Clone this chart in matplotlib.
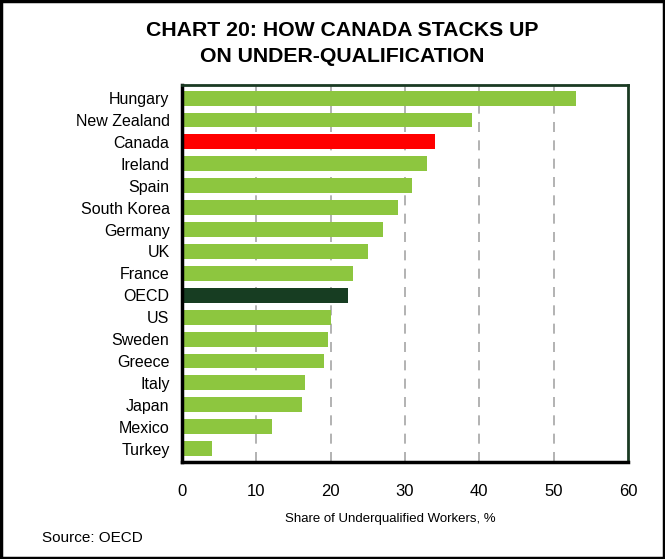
import matplotlib
matplotlib.use("Agg")
import matplotlib.pyplot as plt
from matplotlib.patches import Rectangle

plt.rcParams['font.family'] = ['Liberation Sans', 'DejaVu Sans']

# data (top to bottom)
countries = ['Hungary', 'New Zealand', 'Canada', 'Ireland', 'Spain', 'South Korea',
             'Germany', 'UK', 'France', 'OECD', 'US', 'Sweden', 'Greece', 'Italy',
             'Japan', 'Mexico', 'Turkey']
shares = [53, 39, 34, 33, 31, 29, 27, 25, 23, 22.3, 20.1, 19.6, 19.1, 16.5, 16.1, 12.1, 4.0]
x_ticks = [0, 10, 20, 30, 40, 50, 60]

green = '#8DC63F'
colors = []
for c in countries:
    if c == 'Canada':
        colors.append('#FF0000')
    elif c == 'OECD':
        colors.append('#173D22')
    else:
        colors.append(green)

fig = plt.figure(figsize=(6.65, 5.59), dpi=100)
ax = fig.add_axes([0.2737, 0.174, 0.6707, 0.674])

ypos = list(range(len(countries)))[::-1]
ax.barh(ypos, shares, height=0.68, color=colors, zorder=2)

ax.set_xlim(0, 60)
ax.set_ylim(-0.6, len(countries) - 0.4)
ax.set_xticks(x_ticks)
ax.set_yticks(ypos)
ax.set_yticklabels(countries)
ax.tick_params(axis='both', length=0, labelsize=11.5)
ax.tick_params(axis='x', pad=16, labelsize=12)
ax.tick_params(axis='y', pad=9)

# dashed vertical gridlines
for t in x_ticks[1:-1]:
    ax.axvline(t, color='#a5a5a5', lw=1.2, ls=(0, (6, 5)), zorder=1)

for side in ['left', 'bottom']:
    ax.spines[side].set_color('black')
    ax.spines[side].set_linewidth(2.5)
for side in ['top', 'right']:
    ax.spines[side].set_color('#1a3a22')
    ax.spines[side].set_linewidth(2)

title_x = 342 / 665
fig.text(title_x, 1 - 30 / 559, 'CHART 20: HOW CANADA STACKS UP', ha='center', va='center',
         fontsize=15.3, fontweight='bold')
fig.text(title_x, 1 - 57 / 559, 'ON UNDER-QUALIFICATION', ha='center',
         va='center', fontsize=15.3, fontweight='bold')
fig.text(390 / 665, 1 - 519 / 559, 'Share of Underqualified Workers, %', ha='center',
         va='center', fontsize=9.5)
fig.text(42 / 665, 1 - 538 / 559, 'Source: OECD', ha='left', va='center', fontsize=11)

# outer border
fig.patches.append(Rectangle((0.002, 0.002), 0.996, 0.996, transform=fig.transFigure,
                             fill=False, ec='black', lw=2.5))

fig.savefig('out.png', dpi=100)
